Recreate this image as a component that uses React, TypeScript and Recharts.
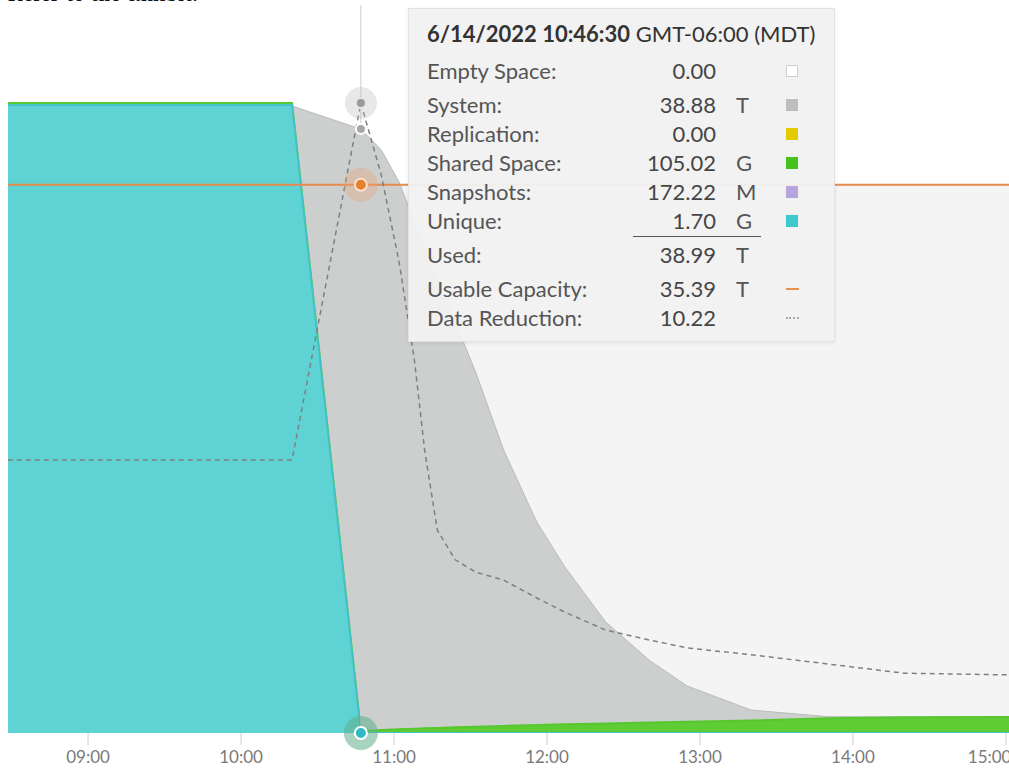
import { ComposedChart, Area, Line, XAxis, YAxis, ReferenceArea, ReferenceLine, ReferenceDot } from "recharts";

// capacity timeline (T = TB)
const times = ["08:25", "10:20", "10:47", "10:55", "11:02", "11:08", "11:12", "11:17", "11:24", "11:32", "11:43", "11:56", "12:07", "12:23", "12:40", "12:55", "13:20", "13:50", "14:20", "15:05"];
const uniqueTop = [40.55, 40.55, 0.002, 0.002, 0.002, 0.002, 0.002, 0.002, 0.002, 0.002, 0.002, 0.002, 0.002, 0.002, 0.002, 0.002, 0.002, 0.002, 0.002, 0.002];
const sharedTop = [40.68, 40.68, 0.11, 0.2, 0.25, 0.28, 0.3, 0.33, 0.37, 0.41, 0.46, 0.52, 0.56, 0.62, 0.68, 0.72, 0.8, 0.95, 1.01, 1.03];
const systemTop = [40.6, 40.48, 38.99, 37.64, 35.57, 32.99, 31.38, 29.24, 26.53, 23.31, 18.27, 13.62, 10.72, 7.17, 4.71, 3.03, 1.48, 1.06, 1.03, 1.04];
const usableCapacity = [35.39, 35.39, 35.39, 35.39, 35.39, 35.39, 35.39, 35.39, 35.39, 35.39, 35.39, 35.39, 35.39, 35.39, 35.39, 35.39, 35.39, 35.39, 35.39, 35.39];
const dataReduction = [4.43, 4.43, 10.22, 9.05, 7.64, 6.05, 4.59, 3.29, 2.81, 2.61, 2.48, 2.19, 1.96, 1.67, 1.51, 1.38, 1.27, 1.12, 0.97, 0.94];
const xTicks = ["09:00", "10:00", "11:00", "12:00", "13:00", "14:00", "15:00"];
const hoverTime = "10:47";

// tooltip content
const tipTitle = "6/14/2022 10:46:30";
const tipZone = "GMT-06:00 (MDT)";
const tipLabels = ["System:", "Replication:", "Shared Space:", "Snapshots:", "Unique:"];
const tipValues = ["38.88", "0.00", "105.02", "172.22", "1.70"];
const tipUnits = ["T", "", "G", "M", "G"];
const tipColors = ["#bdbebe", "#e3cb00", "#45c21c", "#b5a4dd", "#3fc9cf"];

const toMin = (s: string) => {
  const [h, m] = s.split(":").map(Number);
  return h * 60 + m;
};

const rows = times.map((t, i) => ({
  t: toMin(t),
  unique: uniqueTop[i],
  shared: sharedTop[i],
  system: systemTop[i],
  capacity: usableCapacity[i],
  reduction: dataReduction[i],
}));

const hi = times.indexOf(hoverTime);
const hx = toMin(hoverTime);

const font = "Lato, 'Open Sans', sans-serif";

function Swatch({ color }: { color: string }) {
  return (
    <span
      style={{
        display: "inline-block",
        width: 12,
        height: 12,
        background: color,
        border: color === "#ffffff" ? "1px solid #cfcfcf" : "none",
        boxSizing: "border-box",
      }}
    />
  );
}

function Row({ label, value, unit, mark }: { label: string; value: string; unit: string; mark: React.ReactNode }) {
  return (
    <div style={{ display: "flex", alignItems: "center", height: 29, whiteSpace: "nowrap" }}>
      <span style={{ width: 200 }}>{label}</span>
      <span style={{ width: 89, textAlign: "right", color: "#454545" }}>{value}</span>
      <span style={{ width: 56, paddingLeft: 20, boxSizing: "border-box" }}>{unit}</span>
      <span style={{ width: 40, display: "flex", justifyContent: "center" }}>{mark}</span>
    </div>
  );
}

function TipBox() {
  return (
    <div
      style={{
        position: "absolute",
        left: 408,
        top: 8,
        width: 427,
        height: 334,
        boxSizing: "border-box",
        padding: "10px 0 0 18px",
        background: "rgba(241,241,241,0.96)",
        border: "1px solid #e2e2e2",
        boxShadow: "0 1px 4px rgba(0,0,0,0.08)",
        fontFamily: font,
        fontSize: 22,
        color: "#555",
      }}
    >
      <div style={{ height: 29, lineHeight: "29px", color: "#333", whiteSpace: "nowrap", fontSize: 22 }}>
        <b>{tipTitle}</b> {tipZone}
      </div>
      <div style={{ marginTop: 8 }}>
        <Row label="Empty Space:" value="0.00" unit="" mark={<Swatch color="#ffffff" />} />
      </div>
      <div style={{ marginTop: 5 }}>
        {tipLabels.map((l, i) => (
          <Row key={l} label={l} value={tipValues[i]} unit={tipUnits[i]} mark={<Swatch color={tipColors[i]} />} />
        ))}
      </div>
      <div style={{ marginLeft: 206, width: 128, height: 0, borderTop: "1.5px solid #555", marginTop: 1 }} />
      <div style={{ marginTop: 3 }}>
        <Row label="Used:" value="38.99" unit="T" mark={null} />
      </div>
      <div style={{ marginTop: 5 }}>
        <Row
          label="Usable Capacity:"
          value="35.39"
          unit="T"
          mark={<span style={{ display: "inline-block", width: 13, height: 2, background: "#e8904c" }} />}
        />
        <Row
          label="Data Reduction:"
          value="10.22"
          unit=""
          mark={<span style={{ display: "inline-block", width: 13, height: 0, borderTop: "2px dotted #aaa" }} />}
        />
      </div>
    </div>
  );
}

export default function App() {
  return (
    <div style={{ position: "absolute", left: 0, top: 0, width: 1009, height: 771, overflow: "hidden", background: "#fff" }}>
      <div
        style={{
          position: "absolute",
          left: 8,
          top: -17,
          fontFamily: "'Liberation Serif', serif",
          fontSize: 20,
          fontWeight: "bold",
          color: "#111",
          letterSpacing: 1,
        }}
      >
        Refer to the exhibit.
      </div>
      <ComposedChart width={1009} height={771} data={rows} margin={{ top: 5, right: 0, bottom: 0, left: 8 }}>
        <XAxis
          dataKey="t"
          type="number"
          domain={[508.6, 901.2]}
          allowDataOverflow
          ticks={xTicks.map(toMin)}
          tickFormatter={(v: number) => xTicks[xTicks.map(toMin).indexOf(v)]}
          height={38}
          axisLine={false}
          tickSize={12}
          tickMargin={6}
          tickLine={{ stroke: "#cfcfcf" }}
          tick={{ fill: "#7a7a7a", fontSize: 17, fontFamily: font }}
        />
        <YAxis yAxisId="cap" hide domain={[0, 47]} allowDataOverflow />
        <YAxis yAxisId="dr" hide domain={[0, 11.81]} allowDataOverflow />

        {/* empty space under the usable capacity */}
        <ReferenceArea yAxisId="cap" y1={0} y2={usableCapacity[0]} fill="#f4f4f4" fillOpacity={1} stroke="none" />

        <Area yAxisId="cap" type="linear" dataKey="system" stroke="#b9bcbc" strokeWidth={1} fill="#cdcfcf" fillOpacity={1} isAnimationActive={false} />
        <Area yAxisId="cap" type="linear" dataKey="shared" stroke="#56c72e" strokeWidth={2} fill="#5fcc36" fillOpacity={1} isAnimationActive={false} />
        <Area yAxisId="cap" type="linear" dataKey="unique" stroke="#44c3c6" strokeWidth={2} fill="#5fd3d3" fillOpacity={1} isAnimationActive={false} />

        <Line yAxisId="cap" type="linear" dataKey="capacity" stroke="#e58a4c" strokeWidth={2} dot={false} isAnimationActive={false} />
        <Line yAxisId="dr" type="linear" dataKey="reduction" stroke="#7d8081" strokeWidth={1.5} strokeDasharray="5 4" dot={false} isAnimationActive={false} />

        <ReferenceLine yAxisId="cap" x={hx} stroke="#cccccc" strokeWidth={1} />

        <ReferenceDot yAxisId="dr" x={hx} y={dataReduction[hi]} r={16} fill="#bdbdbd" fillOpacity={0.35} stroke="none" />
        <ReferenceDot yAxisId="dr" x={hx} y={dataReduction[hi]} r={5} fill="#9a9a9a" stroke="#e6e6e6" strokeWidth={2} />
        <ReferenceDot yAxisId="cap" x={hx} y={systemTop[hi]} r={5} fill="#a8a8a8" stroke="#ffffff" strokeWidth={2} />
        <ReferenceDot yAxisId="cap" x={hx} y={usableCapacity[hi]} r={17} fill="#e8a070" fillOpacity={0.35} stroke="none" />
        <ReferenceDot yAxisId="cap" x={hx} y={usableCapacity[hi]} r={6} fill="#e5822f" stroke="#fbe3cf" strokeWidth={2} />
        <ReferenceDot yAxisId="cap" x={hx} y={uniqueTop[hi]} r={17} fill="#5fae8c" fillOpacity={0.55} stroke="none" />
        <ReferenceDot yAxisId="cap" x={hx} y={uniqueTop[hi]} r={6} fill="#2fb9c4" stroke="#ffffff" strokeWidth={2} />
      </ComposedChart>
      <TipBox />
    </div>
  );
}
